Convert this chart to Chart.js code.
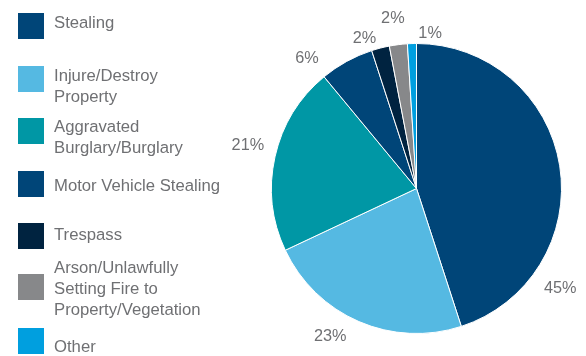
<!DOCTYPE html>
<html>
<head>
<meta charset="utf-8">
<script src="https://cdn.jsdelivr.net/npm/chart.js@4"></script>
<style>
  html, body { margin: 0; padding: 0; background: #fff; }
  #wrap { position: relative; width: 586px; height: 356px; overflow: hidden; }
  #pie { position: absolute; left: 0; top: 0; }
  .lg-box { position: absolute; left: 18px; width: 26px; height: 26px; }
  .lg-text { position: absolute; left: 54px; font: 16.7px "Liberation Sans", Arial, sans-serif;
             line-height: 21px; color: #6f7073; white-space: nowrap; }
</style>
</head>
<body>
<div id="wrap">
  <canvas id="pie" width="586" height="356"></canvas>
</div>
<script>
// Offence categories and their share of all offences (%)
const categories = [
  'Stealing',
  'Injure/Destroy Property',
  'Aggravated Burglary/Burglary',
  'Motor Vehicle Stealing',
  'Trespass',
  'Arson/Unlawfully Setting Fire to Property/Vegetation',
  'Other'
];
const legendLines = [
  ['Stealing'],
  ['Injure/Destroy', 'Property'],
  ['Aggravated', 'Burglary/Burglary'],
  ['Motor Vehicle Stealing'],
  ['Trespass'],
  ['Arson/Unlawfully', 'Setting Fire to', 'Property/Vegetation'],
  ['Other']
];
const shares = [45, 23, 21, 6, 2, 2, 1];
const sliceColors = ['#004578', '#55b9e2', '#0097a5', '#004578', '#002340', '#87888a', '#009fdf'];

// Legend placement (square top, text top) in px
const legendBoxTop = [13, 66, 118, 171, 223, 274, 328];
const legendTextTop = [12, 65, 116, 175, 224, 257, 336];

// Percentage label placement: angle shift (deg) from slice middle, gap beyond the rim (px)
const labelShift = [43.8, 6.9, 1.7, -11.3, -4.7, -0.7, 6.8];
const labelGap = [30, 26, 29, 25, 14, 27, 11];

// HTML legend
const wrap = document.getElementById('wrap');
categories.forEach((name, i) => {
  const box = document.createElement('div');
  box.className = 'lg-box';
  box.style.top = legendBoxTop[i] + 'px';
  box.style.background = sliceColors[i];
  wrap.appendChild(box);
  const txt = document.createElement('div');
  txt.className = 'lg-text';
  txt.style.top = legendTextTop[i] + 'px';
  txt.innerHTML = legendLines[i].join('<br>');
  txt.title = name;
  wrap.appendChild(txt);
});

const outsideLabels = {
  id: 'outsideLabels',
  afterDatasetsDraw(chart) {
    const ctx = chart.ctx;
    const meta = chart.getDatasetMeta(0);
    ctx.save();
    ctx.font = '16.3px "Liberation Sans", Arial, sans-serif';
    ctx.fillStyle = '#6f7073';
    ctx.textAlign = 'center';
    ctx.textBaseline = 'middle';
    meta.data.forEach((arc, i) => {
      const p = arc.getProps(['x', 'y', 'startAngle', 'endAngle', 'outerRadius'], true);
      const a = (p.startAngle + p.endAngle) / 2 + labelShift[i] * Math.PI / 180;
      const r = p.outerRadius + labelGap[i];
      ctx.fillText(shares[i] + '%', p.x + r * Math.cos(a), p.y + r * Math.sin(a));
    });
    ctx.restore();
  }
};

new Chart(document.getElementById('pie'), {
  type: 'pie',
  data: {
    labels: categories,
    datasets: [{
      data: shares,
      backgroundColor: sliceColors,
      borderColor: '#ffffff',
      borderWidth: 1,
      hoverOffset: 0
    }]
  },
  options: {
    responsive: false,
    animation: false,
    layout: { padding: { left: 271, right: 24, top: 43, bottom: 22 } },
    plugins: {
      legend: { display: false },
      tooltip: { enabled: false }
    }
  },
  plugins: [outsideLabels]
});
</script>
</body>
</html>
